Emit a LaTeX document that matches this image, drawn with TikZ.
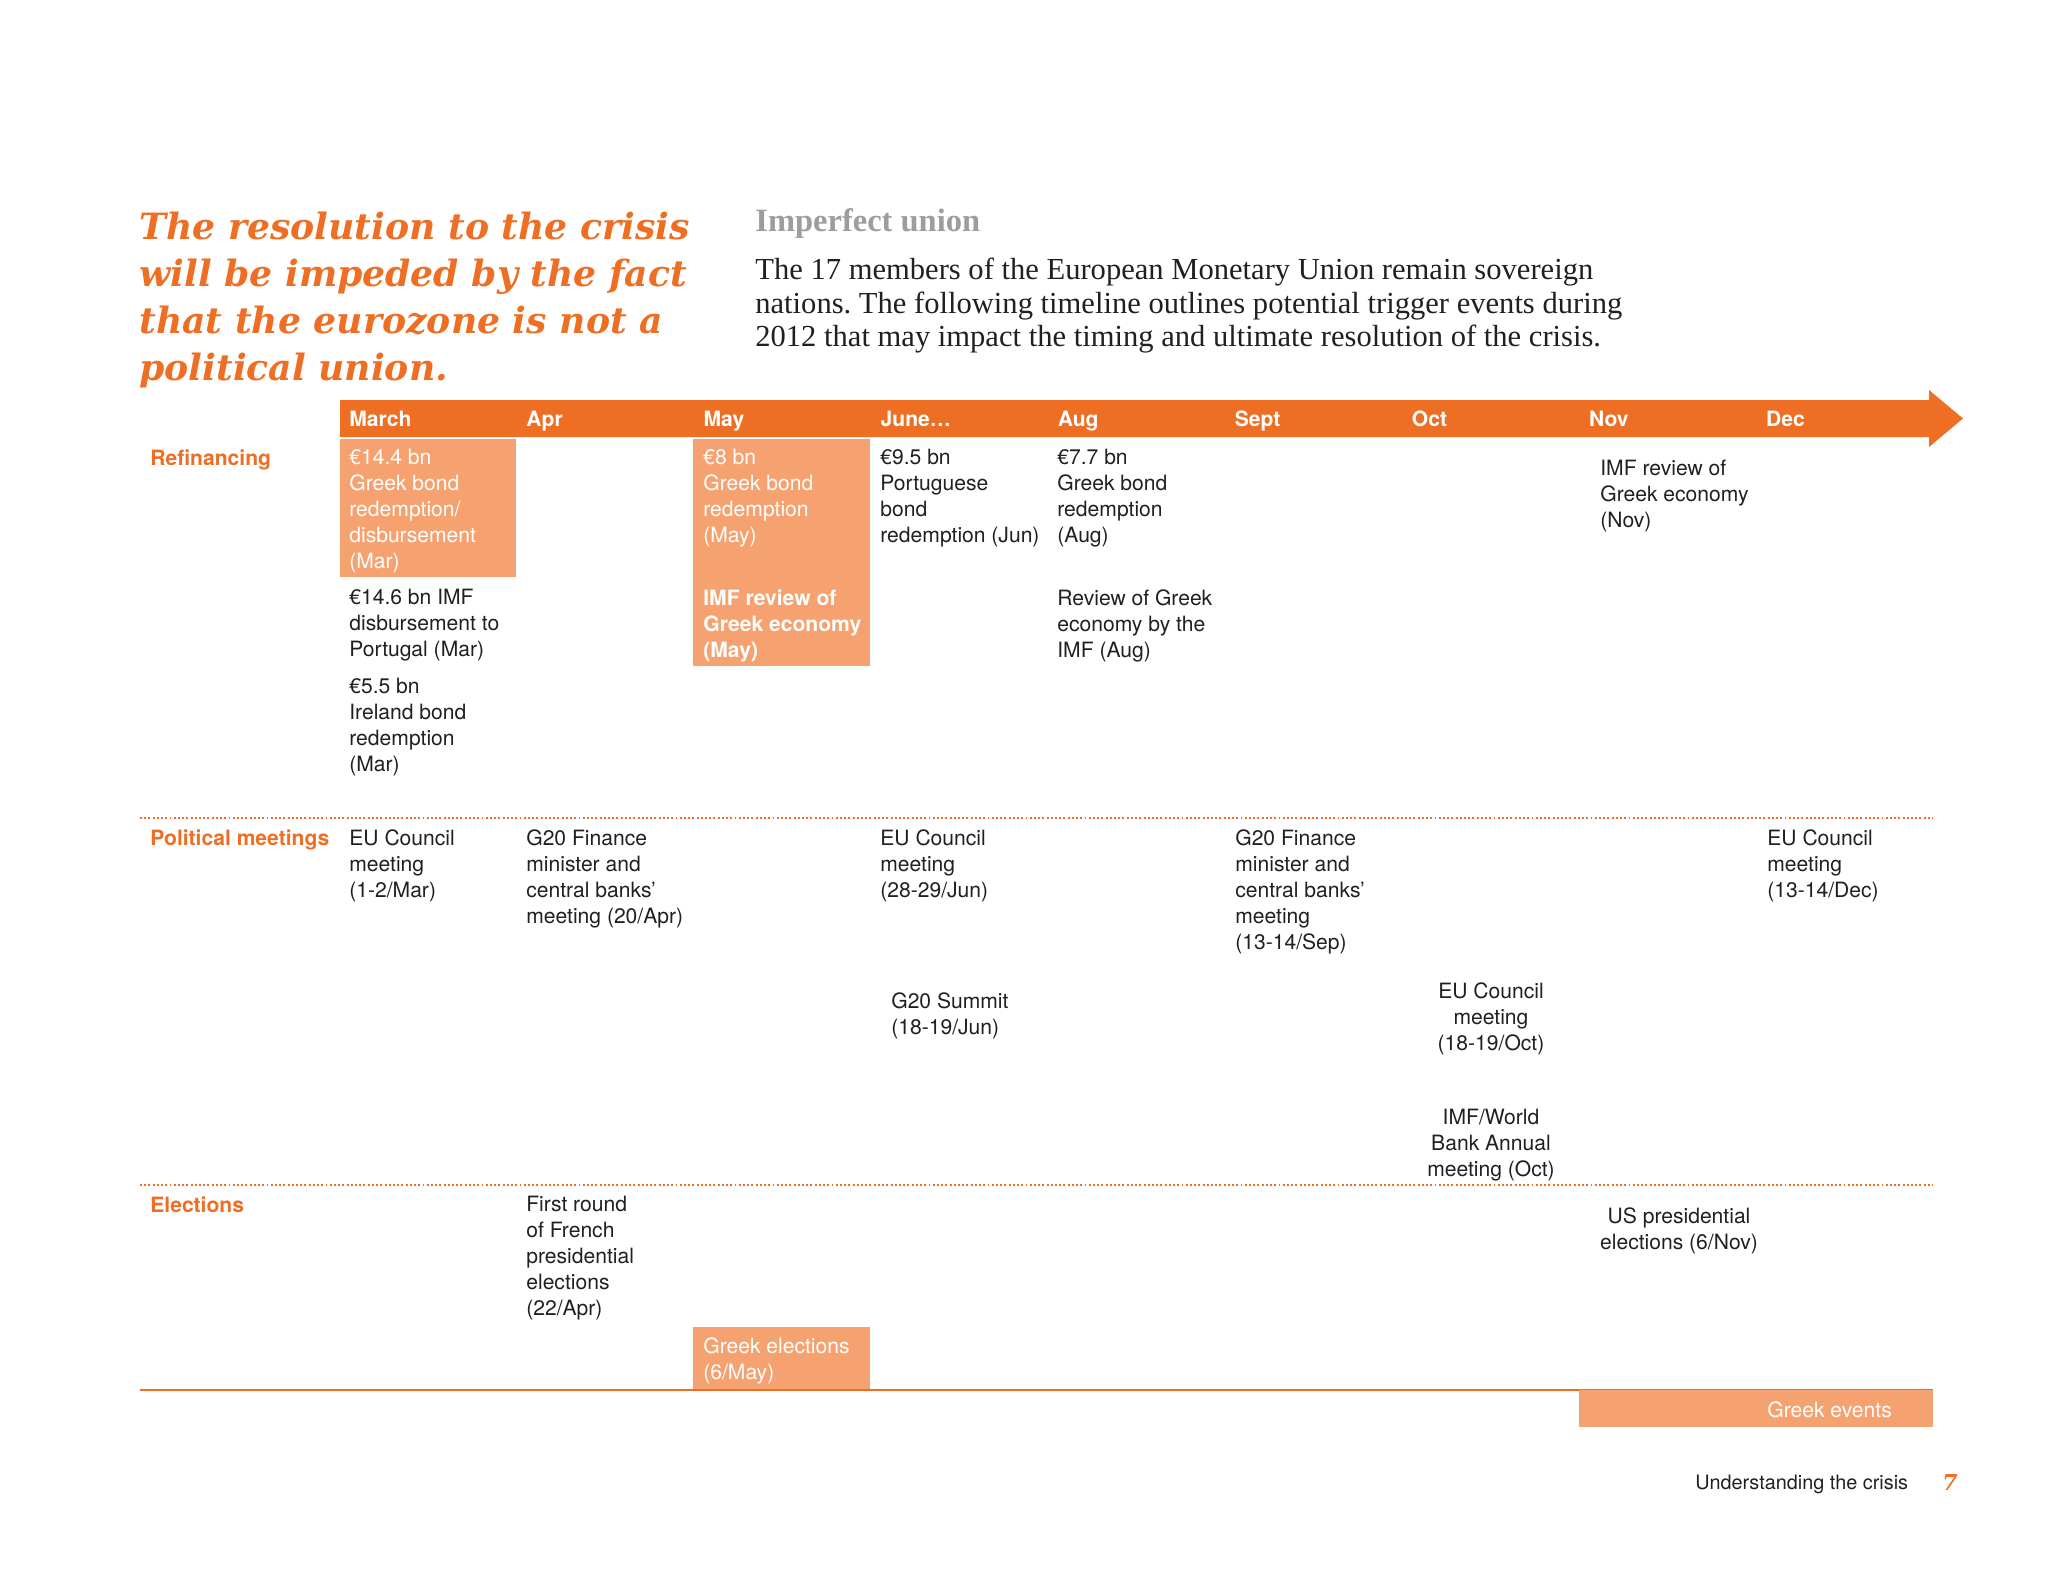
\documentclass[tikz,border=0pt]{standalone}
\usepackage{fontspec}
\setmainfont{Liberation Serif}
\setsansfont{TeX Gyre Heros}
\newfontfamily\headfont{DejaVu Serif}
\usepackage{tikz}
\frenchspacing

\definecolor{pwcorange}{RGB}{238,110,36}
\definecolor{pwclight}{RGB}{246,162,112}
\definecolor{pwctext}{RGB}{35,31,32}
\definecolor{pwcgray}{RGB}{157,157,156}

\newcommand{\evtsize}{\fontsize{12pt}{14.8pt}\selectfont}

\begin{document}
\begin{tikzpicture}[x=0.02cm, y=-0.02cm,
  month/.style={anchor=base west, inner sep=0pt, text=white, font=\sffamily\bfseries\evtsize},
  rowlabel/.style={anchor=base west, inner sep=0pt, text=pwcorange, font=\sffamily\bfseries\evtsize},
  evt/.style={anchor=north west, align=left, inner sep=0pt, text=pwctext, font=\sffamily\evtsize},
  evtmid/.style={evt, anchor=north, align=center},
  onbox/.style={evt, text=white},
  divider/.style={pwcorange, line width=1.2pt, dash pattern=on 1.1pt off 1.3pt}]
  \useasboundingbox (0,0) rectangle (2048,1582);

  % Headline and intro
  \node[anchor=north west, align=left, inner sep=0pt, text=pwcorange,
        font=\headfont\bfseries\itshape\fontsize{20.6pt}{26.7pt}\selectfont] (headline) at (139,212)
    {The resolution to the crisis\\will be impeded by the fact\\that the eurozone is not a\\political union.};
  \node[anchor=base west, inner sep=0pt, text=pwcgray,
        font=\rmfamily\bfseries\fontsize{18.5pt}{20pt}\selectfont] (title) at (755,231) {Imperfect union};
  \node[anchor=north west, align=left, inner sep=0pt, text=pwctext,
        font=\rmfamily\fontsize{17.4pt}{19.1pt}\selectfont] (intro) at (755,258)
    {The 17 members of the European Monetary Union remain sovereign\\nations. The following timeline outlines potential trigger events during\\2012 that may impact the timing and ultimate resolution of the crisis.};

  % Highlight boxes (Greek events)
  \fill[pwclight] (340,439) rectangle (516,577);
  \fill[pwclight] (693,439) rectangle (870,666);
  \fill[pwclight] (693,1327) rectangle (870,1390);

  % Month arrow
  \fill[pwcorange] (340,400) -- (1929,400) -- (1929,390) -- (1963,418.5)
    -- (1929,447) -- (1929,437) -- (340,437) -- cycle;
  \foreach \m [count=\i from 0] in {March,Apr,May,June\ldots,Aug,Sept,Oct,Nov,Dec}
    \node[month] (m\i) at (349+177.1*\i,426) {\m};

  % Row labels and dividers
  \node[rowlabel] (refin) at (150,465) {Refinancing};
  \node[rowlabel] (polit) at (150,845) {Political meetings};
  \node[rowlabel] (elect) at (150,1212) {Elections};
  \draw[divider] (140,818) -- (1933,818);
  \draw[divider] (140,1185) -- (1933,1185);
  \draw[pwcorange, line width=1.1pt] (140,1390) -- (1933,1390);

  % Refinancing
  \node[onbox] (refA) at (349,449) {€14.4 bn\\Greek bond\\redemption/\\disbursement\\(Mar)};
  \node[evt] (refB) at (349,589) {€14.6 bn IMF\\disbursement to\\Portugal (Mar)};
  \node[evt] (refC) at (349,678) {€5.5 bn\\Ireland bond\\redemption\\(Mar)};
  \node[onbox] (refD) at (703,449) {€8 bn\\Greek bond\\redemption\\(May)};
  \node[onbox, font=\sffamily\bfseries\evtsize] (refE) at (703,589) {IMF review of\\Greek economy\\(May)};
  \node[evt] (refF) at (880,449) {€9.5 bn\\Portuguese\\bond\\redemption (Jun)};
  \node[evt] (refG) at (1057,449) {€7.7 bn\\Greek bond\\redemption\\(Aug)};
  \node[evt] (refH) at (1057,589) {Review of Greek\\economy by the\\IMF (Aug)};
  \node[evt] (refI) at (1600,460) {IMF review of\\Greek economy\\(Nov)};

  % Political meetings
  \node[evt] (polA) at (349,829) {EU Council\\meeting\\(1-2/Mar)};
  \node[evt] (polB) at (526,829) {G20 Finance\\minister and\\central banks’\\meeting (20/Apr)};
  \node[evt] (polC) at (880,829) {EU Council\\meeting\\(28-29/Jun)};
  \node[evt] (polD) at (891,992) {G20 Summit\\(18-19/Jun)};
  \node[evt] (polE) at (1235,829) {G20 Finance\\minister and\\central banks’\\meeting\\(13-14/Sep)};
  \node[evtmid] (polF) at (1491,982) {EU Council\\meeting\\(18-19/Oct)};
  \node[evtmid] (polG) at (1491,1109) {IMF/World\\Bank Annual\\meeting (Oct)};
  \node[evt] (polH) at (1767,829) {EU Council\\meeting\\(13-14/Dec)};

  % Elections
  \node[evt] (eleA) at (526,1196) {First round\\of French\\presidential\\elections\\(22/Apr)};
  \node[onbox] (eleB) at (703,1337) {Greek elections\\(6/May)};
  \node[evtmid] (eleC) at (1679,1207) {US presidential\\elections (6/Nov)};

  % Key and footer
  \fill[pwclight] (1579,1390) rectangle (1933,1427);
  \node[anchor=base west, inner sep=0pt, text=white, font=\sffamily\evtsize] (key) at (1767,1417) {Greek events};
  \node[anchor=base west, inner sep=0pt, text=pwctext, font=\sffamily\fontsize{11.3pt}{13pt}\selectfont] (foot) at (1695,1489) {Understanding the crisis};
  \node[anchor=base west, inner sep=0pt, text=pwcorange, font=\headfont\bfseries\itshape\fontsize{12.5pt}{13pt}\selectfont] (page) at (1942,1490) {7};
\end{tikzpicture}
\end{document}
